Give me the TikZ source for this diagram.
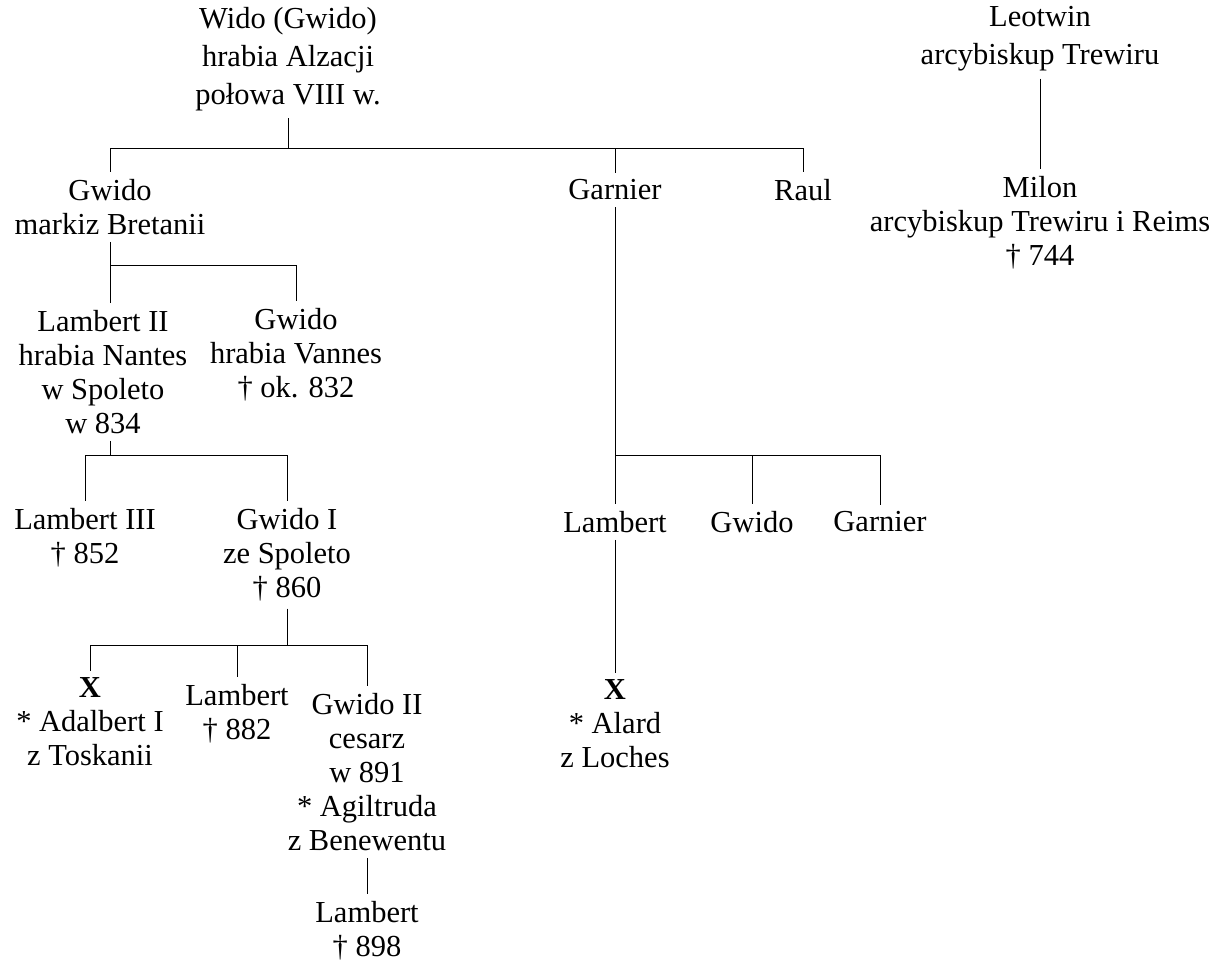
\documentclass[tikz,border=0pt]{standalone}
\usepackage{fontspec}
\setmainfont{Liberation Serif}
\begin{document}
\begin{tikzpicture}[x=1pt,y=-1pt,
  person/.style={align=center, inner xsep=0pt, inner ysep=7pt,
    font=\fontsize{30.5}{34}\selectfont},
  headperson/.style={person, font=\fontsize{30.5}{38}\selectfont},
  line/.style={draw=black, line width=0.9pt}]
\useasboundingbox (0,0) rectangle (1220,963);

% bar levels
\coordinate (L1) at (0,148);
\coordinate (L2) at (0,265);
\coordinate (L3) at (0,455);
\coordinate (L4) at (0,645);

% people
\node[headperson] (wido) at (288,59) {Wido (Gwido)\\hrabia Alzacji\\połowa VIII w.};
\node[headperson] (leotwin) at (1040,39) {Leotwin\\arcybiskup Trewiru};
\node[person] (milon) at (1040,223) {Milon\\arcybiskup Trewiru i Reims\\† 744};

\node[person] (gwido) at (110,207) {Gwido\\markiz Bretanii};
\node[person] (garnier) at (615,190) {Garnier};
\node[person] (raul) at (803,190) {Raul};

\node[person] (lambertII) at (103,372) {Lambert II\\hrabia Nantes\\w Spoleto\\w 834};
\node[person] (gwidoV) at (296,355) {Gwido\\hrabia Vannes\\† ok. 832};

\node[person] (lambertIII) at (85,538) {Lambert III\\† 852};
\node[person] (gwidoI) at (287,555) {Gwido I\\ze Spoleto\\† 860};

\node[person] (xa) at (90,722) {\textbf{X}\\* Adalbert I\\z Toskanii};
\node[person] (lambertA) at (237,714) {Lambert\\† 882};
\node[person] (gwidoII) at (367,772) {Gwido II\\cesarz\\w 891\\* Agiltruda\\z Benewentu};
\node[person] (lambertB) at (367,931) {Lambert\\† 898};

\node[person] (lambertG) at (615,522) {Lambert};
\node[person] (gwidoG) at (752,522) {Gwido};
\node[person] (garnierG) at (880,522) {Garnier};
\node[person] (xb) at (615,724) {\textbf{X}\\* Alard\\z Loches};

% Wido's children
\draw[line] (wido.south) -- (wido.south |- L1);
\draw[line] (gwido.north |- L1) -- (raul.north |- L1);
\draw[line] (gwido.north |- L1) -- (gwido.north);
\draw[line] (garnier.north |- L1) -- (garnier.north);
\draw[line] (raul.north |- L1) -- (raul.north);

% Leotwin to Milon
\draw[line] (leotwin.south) -- (milon.north);

% Gwido, margrave of Brittany
\draw[line] (gwido.south) -- (gwido.south |- L2);
\draw[line] (gwido.south |- L2) -- (gwidoV.north |- L2);
\draw[line] (lambertII.north -| gwido.south) -- (gwido.south |- L2);
\draw[line] (gwidoV.north |- L2) -- (gwidoV.north);

% Lambert II
\draw[line] (lambertII.south -| gwido.south) -- (gwido.south |- L3);
\draw[line] (lambertIII.north |- L3) -- (gwidoI.north |- L3);
\draw[line] (lambertIII.north |- L3) -- (lambertIII.north);
\draw[line] (gwidoI.north |- L3) -- (gwidoI.north);

% Gwido I of Spoleto
\draw[line] (gwidoI.south) -- (gwidoI.south |- L4);
\draw[line] (xa.north |- L4) -- (gwidoII.north |- L4);
\draw[line] (xa.north |- L4) -- (xa.north);
\draw[line] (lambertA.north |- L4) -- (lambertA.north);
\draw[line] (gwidoII.north |- L4) -- (gwidoII.north);
\draw[line] (gwidoII.south) -- (lambertB.north);

% Garnier's line
\draw[line] (garnier.south) -- (garnier.south |- L3);
\draw[line] (lambertG.north |- L3) -- (garnierG.north |- L3);
\draw[line] (lambertG.north |- L3) -- (lambertG.north);
\draw[line] (gwidoG.north |- L3) -- (gwidoG.north);
\draw[line] (garnierG.north |- L3) -- (garnierG.north);
\draw[line] (lambertG.south) -- (xb.north);
\end{tikzpicture}
\end{document}
